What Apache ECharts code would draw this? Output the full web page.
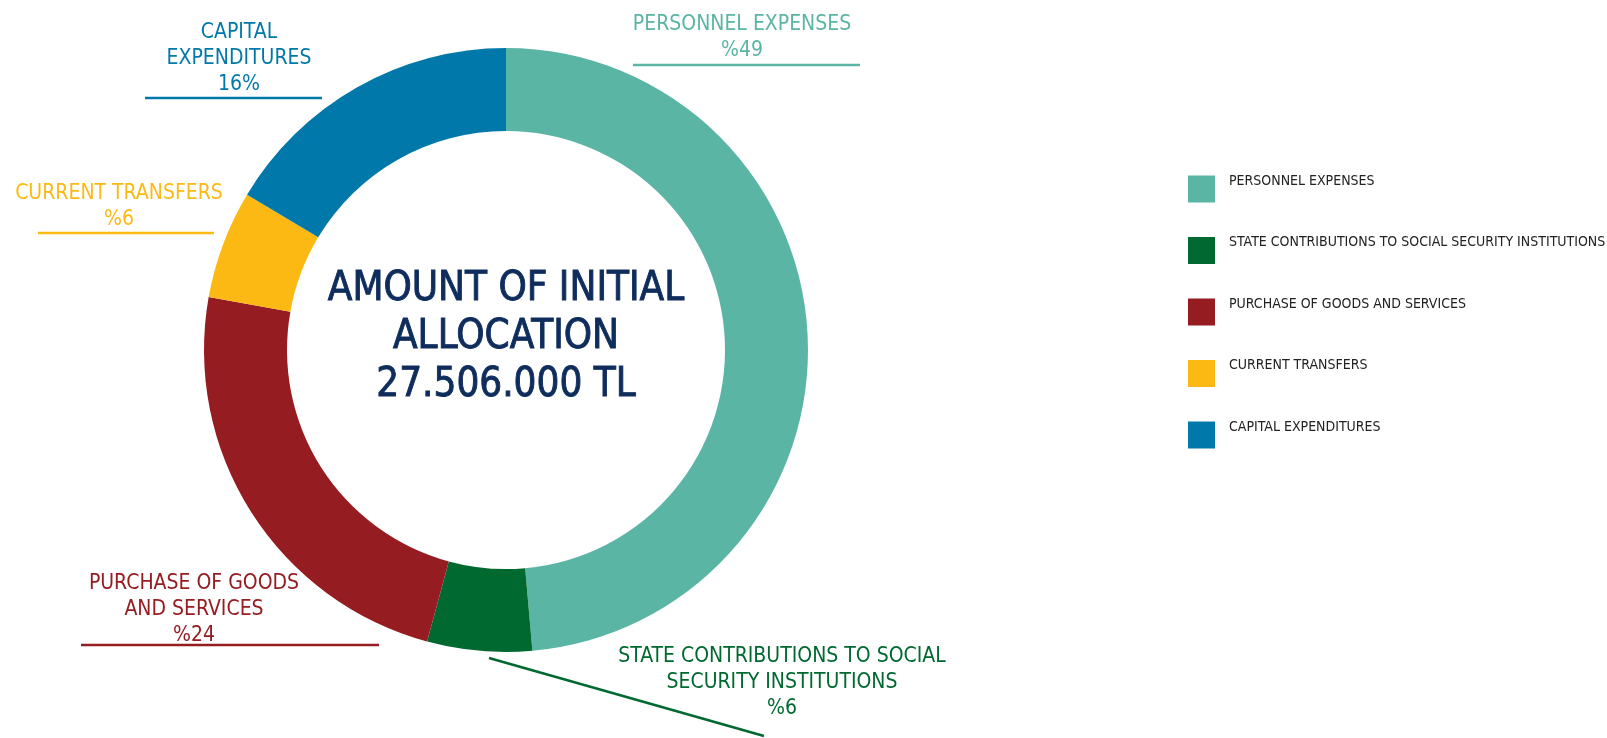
<!DOCTYPE html>
<html>
<head>
<meta charset="utf-8">
<script src="https://cdn.jsdelivr.net/npm/echarts@6/dist/echarts.min.js"></script>
<style>
  html, body { margin: 0; padding: 0; background: #fff; }
  #pie { width: 1607px; height: 738px; }
</style>
</head>
<body>
<div id="pie"></div>
<script>
// data
var categories = ['PERSONNEL EXPENSES', 'STATE CONTRIBUTIONS TO SOCIAL SECURITY INSTITUTIONS', 'PURCHASE OF GOODS AND SERVICES', 'CURRENT TRANSFERS', 'CAPITAL EXPENDITURES'];
var labelNames = ['PERSONNEL EXPENSES', 'STATE CONTRIBUTIONS TO SOCIAL\nSECURITY INSTITUTIONS', 'PURCHASE OF GOODS\nAND SERVICES', 'CURRENT TRANSFERS', 'CAPITAL\nEXPENDITURES'];
var pctLabels = ['%49', '%6', '%24', '%6', '16%'];
var amounts = [13370, 1540, 6490, 1595, 4511]; // thousand TL
var colors = ['#5bb5a5', '#00692f', '#951c20', '#fdb913', '#0079aa'];

// where each outside label sits, and its guide line
var labelPos = [
    {x: 742, y: 12, line: [[633, 65], [860, 65]]},
    {x: 782, y: 644, line: [[489, 658], [764, 736]]},
    {x: 194, y: 571, line: [[81, 645], [379, 645]]},
    {x: 119, y: 181, line: [[38, 233], [214, 233]]},
    {x: 239, y: 20, line: [[145, 98], [322, 98]]}
];

var total = 0;
for (var i = 0; i < amounts.length; i++) total += amounts[i];
var totalText = String(total * 1000).replace(/\B(?=(\d{3})+(?!\d))/g, '.') + ' TL';

var pieData = [];
for (var i = 0; i < categories.length; i++) {
    pieData.push({
        value: amounts[i],
        name: categories[i],
        itemStyle: {color: colors[i]},
        label: {color: colors[i]},
        labelLine: {lineStyle: {color: colors[i]}}
    });
}

var myChart = echarts.init(document.getElementById('pie'));

var option = {
    animation: false,
    legend: {
        orient: 'vertical',
        left: 1183,
        top: 168,
        itemWidth: 27,
        itemHeight: 27,
        itemGap: 29.5,
        icon: 'rect',
        data: categories,
        // second empty line lifts the name a bit above the square's middle
        formatter: function (name) { return name + '\n '; },
        textStyle: {
            fontFamily: '"DejaVu Sans Condensed", sans-serif',
            fontSize: 14,
            lineHeight: 16,
            color: '#222',
            padding: [0, 0, 0, 9]
        }
    },
    graphic: [{
        type: 'text',
        x: 506,
        y: 338,
        style: {
            text: 'AMOUNT OF INITIAL\nALLOCATION\n' + totalText,
            align: 'center',
            verticalAlign: 'middle',
            fontFamily: '"DejaVu Sans Condensed", sans-serif',
            fontSize: 40,
            fontWeight: 'normal',
            lineHeight: 48,
            fill: '#0f2d5c',
            stroke: '#0f2d5c',
            lineWidth: 0.9
        }
    }],
    series: [{
        name: 'Initial allocation',
        type: 'pie',
        center: [506, 350],
        radius: [219, 302],
        startAngle: 90,
        clockwise: true,
        avoidLabelOverlap: false,
        label: {
            show: true,
            position: 'outside',
            fontFamily: '"DejaVu Sans Condensed", sans-serif',
            fontSize: 21,
            lineHeight: 26,
            align: 'center',
            formatter: function (p) {
                return labelNames[p.dataIndex] + '\n' + pctLabels[p.dataIndex];
            }
        },
        labelLine: {show: true, lineStyle: {width: 2.5}},
        labelLayout: function (p) {
            var lp = labelPos[p.dataIndex];
            return {
                x: lp.x,
                y: lp.y,
                align: 'center',
                verticalAlign: 'top',
                labelLinePoints: lp.line
            };
        },
        data: pieData
    }]
};

myChart.setOption(option);
</script>
</body>
</html>
